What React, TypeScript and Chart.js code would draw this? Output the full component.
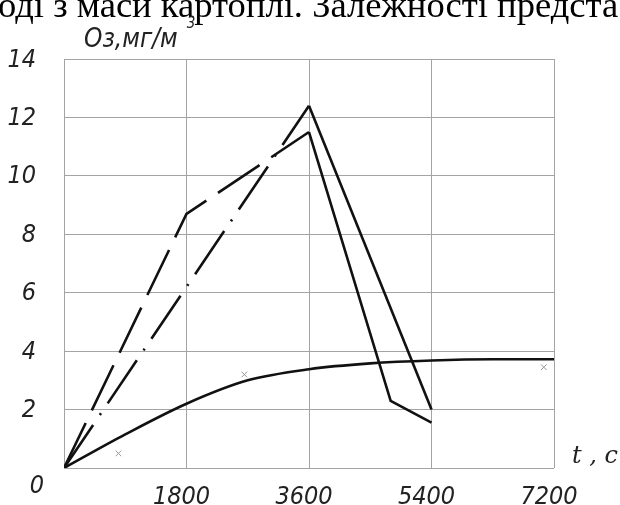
import React, { useEffect, useRef } from "react";
import { Chart, registerables } from "chart.js";

Chart.register(...registerables);

// ---- data ----
const headerText = "оді з маси картоплі. Залежності предста";
const yAxisTitle = "Oз,мг/м";
const yAxisTitleSup = "3";
const xAxisTitle = "t , c";

const xTicks = [1800, 3600, 5400, 7200];
const yTicks = [0, 2, 4, 6, 8, 10, 12, 14];

const dashedTimes = [0, 1800, 3600, 4800, 5400];
const dashedValues = [0, 8.7, 11.5, 2.3, 1.55];

const dashDotTimes = [0, 1800, 3600, 5400];
const dashDotValues = [0, 6.2, 12.4, 2.0];

const curveTimes = [0, 900, 1800, 2700, 3600, 4500, 5400, 6300, 7200];
const curveValues = [0, 1.15, 2.2, 3.0, 3.38, 3.58, 3.68, 3.72, 3.72];

const crossTimes = [800, 2650, 7050];
const crossValues = [0.5, 3.2, 3.45];

const pts = (xs: number[], ys: number[]) => xs.map((x, i) => ({ x, y: ys[i] }));

const TICK_FONT = "'Liberation Sans Narrow', 'DejaVu Sans Condensed', 'Liberation Sans', sans-serif";

const textPlugin = {
  id: "extraText",
  afterDraw(chart: any) {
    const ctx = chart.ctx;
    const xs = chart.scales.x;
    const ys = chart.scales.y;
    ctx.save();
    ctx.fillStyle = "#000";
    ctx.textBaseline = "alphabetic";
    ctx.textAlign = "left";
    ctx.font = "36.6px 'Liberation Serif', 'Times New Roman', serif";
    ctx.fillText(headerText, -2, 17);

    ctx.fillStyle = "#222";
    ctx.font = "italic 26px " + TICK_FONT;
    ctx.fillText(yAxisTitle, 84, 47);
    const w = ctx.measureText(yAxisTitle).width;
    ctx.font = "italic 15px " + TICK_FONT;
    ctx.fillText(yAxisTitleSup, 84 + w + 9, 28);

    ctx.font = "italic 24px 'DejaVu Serif', 'Liberation Serif', serif";
    ctx.fillText(xAxisTitle, 572, 463);

    // origin label
    ctx.font = "italic 25px " + TICK_FONT;
    ctx.textAlign = "right";
    ctx.fillText("0", xs.getPixelForValue(0) - 20, ys.getPixelForValue(0) + 25);
    ctx.restore();
  },
};

export default function App() {
  const ref = useRef<HTMLCanvasElement | null>(null);
  useEffect(() => {
    const canvas = ref.current!;
    const lineBase = {
      borderColor: "#111",
      borderWidth: 2.6,
      pointRadius: 0,
      fill: false,
    };
    const chart = new Chart(canvas, {
      type: "scatter",
      data: {
        datasets: [
          {
            ...lineBase,
            data: pts(dashedTimes, dashedValues),
            showLine: true,
            tension: 0,
            segment: {
              borderDash: (c: any) => (c.p1DataIndex <= 2 ? [50, 14] : undefined),
            },
          } as any,
          {
            ...lineBase,
            data: pts(dashDotTimes, dashDotValues),
            showLine: true,
            tension: 0,
            segment: {
              borderDash: (c: any) => (c.p1DataIndex <= 2 ? [52, 12, 2, 12] : undefined),
            },
          } as any,
          {
            ...lineBase,
            data: pts(curveTimes, curveValues),
            showLine: true,
            cubicInterpolationMode: "monotone",
          } as any,
          {
            data: pts(crossTimes, crossValues),
            showLine: false,
            pointStyle: "crossRot",
            pointRadius: 4,
            borderColor: "#999",
            borderWidth: 1,
          } as any,
        ],
      },
      options: {
        animation: false,
        responsive: false,
        maintainAspectRatio: false,
        events: [],
        layout: { padding: { top: 59, right: 66, left: 0, bottom: 0 } },
        plugins: { legend: { display: false }, tooltip: { enabled: false } },
        scales: {
          x: {
            type: "linear",
            min: 0,
            max: 7200,
            afterFit: (s: any) => {
              s.height = 37;
              s.paddingLeft = 0;
              s.paddingRight = 0;
            },
            afterBuildTicks: (s: any) => {
              s.ticks = [0, ...xTicks].map((v) => ({ value: v }));
            },
            border: { display: false },
            grid: { color: "#a4a4a4", lineWidth: 1, drawTicks: false },
            ticks: {
              padding: 14,
              labelOffset: -5,
              color: "#222",
              font: { family: TICK_FONT, size: 25, style: "italic" },
              callback: (v: any) => (v === 0 ? "" : String(v)),
            },
          },
          y: {
            min: 0,
            max: 14,
            afterFit: (s: any) => {
              s.width = 64;
              s.paddingTop = 0;
              s.paddingBottom = 0;
            },
            afterBuildTicks: (s: any) => {
              s.ticks = yTicks.map((v) => ({ value: v }));
            },
            border: { display: false },
            grid: { color: "#a4a4a4", lineWidth: 1, drawTicks: false },
            ticks: {
              padding: 28,
              labelOffset: 1,
              color: "#222",
              font: { family: TICK_FONT, size: 25, style: "italic" },
              callback: (v: any) => (v === 0 ? "" : String(v)),
            },
          },
        },
      } as any,
      plugins: [textPlugin],
    });
    return () => chart.destroy();
  }, []);
  return (
    <div style={{ position: "absolute", left: 0, top: 0, width: 620, height: 505, background: "#fff", overflow: "hidden" }}>
      <canvas ref={ref} width={620} height={505} style={{ display: "block", width: 620, height: 505 }} />
    </div>
  );
}
